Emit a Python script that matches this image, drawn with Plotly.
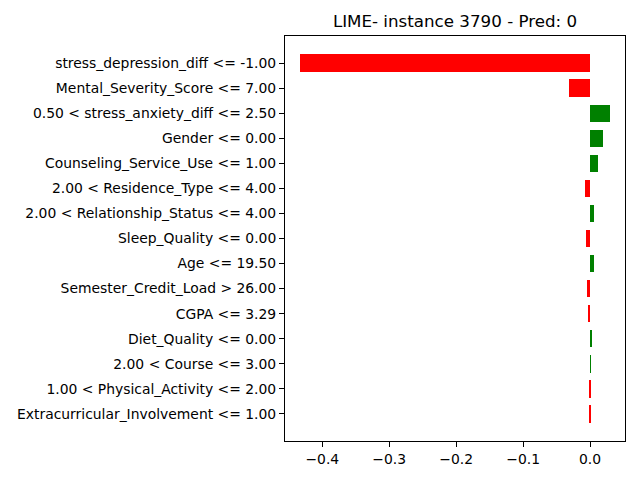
import plotly.graph_objects as go

features = [
    "stress_depression_diff <= -1.00",
    "Mental_Severity_Score <= 7.00",
    "0.50 < stress_anxiety_diff <= 2.50",
    "Gender <= 0.00",
    "Counseling_Service_Use <= 1.00",
    "2.00 < Residence_Type <= 4.00",
    "2.00 < Relationship_Status <= 4.00",
    "Sleep_Quality <= 0.00",
    "Age <= 19.50",
    "Semester_Credit_Load > 26.00",
    "CGPA <= 3.29",
    "Diet_Quality <= 0.00",
    "2.00 < Course <= 3.00",
    "1.00 < Physical_Activity <= 2.00",
    "Extracurricular_Involvement <= 1.00",
]
weights = [-0.433, -0.031, 0.030, 0.0194, 0.0119, -0.0075, 0.006, -0.006,
           0.006, -0.0045, -0.003, 0.0015, 0.0012, -0.0008, -0.0006]
x_tick_vals = [-0.4, -0.3, -0.2, -0.1, 0.0]
x_tick_text = ["\u22120.4", "\u22120.3", "\u22120.2", "\u22120.1", "0.0"]
title = "LIME- instance 3790 - Pred: 0"

n = len(features)
ypos = [n - 1 - i for i in range(n)]
colors = ["#008000" if w > 0 else "#ff0000" for w in weights]

fig = go.Figure(go.Bar(
    x=weights, y=ypos, orientation="h", width=0.7,
    marker=dict(color=colors, line=dict(width=0)),
))

font = "DejaVu Sans"
fig.update_layout(
    width=640, height=480,
    margin=dict(l=285, r=15, t=36, b=39),
    paper_bgcolor="white", plot_bgcolor="white",
    showlegend=False,
    font=dict(family=font, size=14, color="black"),
    title=dict(text=title, x=(285 + 625) / 2 / 640, xanchor="center",
               y=1 - 21 / 480, yanchor="middle",
               font=dict(family=font, size=16.7, color="black")),
    bargap=0,
)
fig.update_xaxes(
    range=[-0.4557, 0.0522], tickvals=x_tick_vals, ticktext=x_tick_text,
    showgrid=False, zeroline=False, showline=True, linecolor="black",
    linewidth=1, mirror=True, ticks="outside", ticklen=5, tickcolor="black",
    tickfont=dict(size=13.9),
)
fig.update_yaxes(
    range=[-1.085, 15.085], tickvals=ypos, ticktext=features,
    showgrid=False, zeroline=False, showline=True, linecolor="black",
    linewidth=1, mirror=True, ticks="outside", ticklen=5, tickcolor="black",
    tickfont=dict(size=13.9),
)
fig.write_html("out.html")
